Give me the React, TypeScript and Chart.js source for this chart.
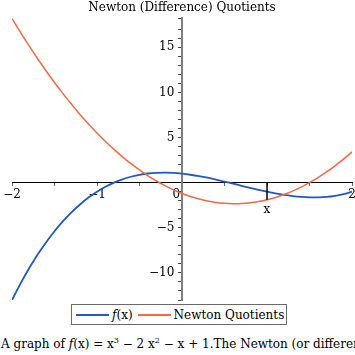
import React, { useEffect, useRef } from "react";
import { Chart, registerables } from "chart.js";

Chart.register(...registerables);

const xValues = [
  -2, -1.9, -1.8, -1.7, -1.6, -1.5, -1.4, -1.3, -1.2, -1.1, -1,
  -0.9, -0.8, -0.7, -0.6, -0.5, -0.4, -0.3, -0.2, -0.1, 0,
  0.1, 0.2, 0.3, 0.4, 0.5, 0.6, 0.7, 0.8, 0.9, 1,
  1.1, 1.2, 1.3, 1.4, 1.5, 1.6, 1.7, 1.8, 1.9, 2,
];

const fValues = [
  -13, -11.18, -9.51, -7.99, -6.62, -5.38, -4.26, -3.28, -2.41, -1.65, -1,
  -0.45, 0.01, 0.38, 0.66, 0.88, 1.02, 1.09, 1.11, 1.08, 1,
  0.88, 0.73, 0.55, 0.34, 0.13, -0.1, -0.34, -0.57, -0.79, -1,
  -1.19, -1.35, -1.48, -1.58, -1.63, -1.62, -1.57, -1.45, -1.26, -1,
];

const quotientValues = [
  18.21, 16.67, 15.19, 13.77, 12.41, 11.11, 9.87, 8.69, 7.57, 6.51, 5.51,
  4.57, 3.69, 2.87, 2.11, 1.41, 0.77, 0.19, -0.33, -0.79, -1.19,
  -1.53, -1.81, -2.03, -2.19, -2.29, -2.33, -2.31, -2.23, -2.09, -1.89,
  -1.63, -1.31, -0.93, -0.49, 0.01, 0.57, 1.19, 1.87, 2.61, 3.41,
];

const markerX = [1, 1];
const markerY = [0, -1.89];

const xTickLabels: Record<string, string | string[]> = {
  "-2": "\u22122",
  "-1": "\u22121",
  "0": "0   ",
  "1": ["", "x"],
  "2": "2",
};
const yTickLabels: Record<string, string> = {
  "15": "15  ",
  "10": "10  ",
  "5": "5  ",
  "-5": "\u22125  ",
  "-10": "\u221210  ",
};

const title = "Newton (Difference) Quotients";
const seriesNames = ["f(x)", "Newton Quotients"];

const BLUE = "#2159c4";
const ORANGE = "#f26a43";
const FONT = "'DejaVu Serif', serif";

export default function App() {
  const canvasRef = useRef<HTMLCanvasElement | null>(null);

  useEffect(() => {
    if (!canvasRef.current) return;
    const chart = new Chart(canvasRef.current, {
      type: "line",
      data: {
        datasets: [
          {
            label: "marker",
            data: markerX.map((x, i) => ({ x, y: markerY[i] })),
            borderColor: "#000",
            borderWidth: 1.5,
            pointRadius: 0,
            order: -1,
          },
          {
            label: seriesNames[0],
            data: xValues.map((x, i) => ({ x, y: fValues[i] })),
            borderColor: BLUE,
            borderWidth: 1.8,
            pointRadius: 0,
            cubicInterpolationMode: "monotone",
            order: 1,
          },
          {
            label: seriesNames[1],
            data: xValues.map((x, i) => ({ x, y: quotientValues[i] })),
            borderColor: ORANGE,
            borderWidth: 1.5,
            pointRadius: 0,
            cubicInterpolationMode: "monotone",
            order: 0,
          },
        ],
      },
      options: {
        animation: false,
        responsive: false,
        maintainAspectRatio: false,
        layout: { padding: { left: 12, right: 3, top: 0, bottom: 2 } },
        plugins: {
          legend: { display: false },
          tooltip: { enabled: false },
          title: {
            display: true,
            text: title,
            color: "#000",
            font: { family: FONT, size: 12, weight: "normal" },
            padding: { top: 1, bottom: 3 },
          },
        },
        scales: {
          x: {
            type: "linear",
            position: { y: 0 } as any,
            min: -2,
            max: 2,
            afterFit: (s: any) => {
              s.height = 0;
              s.paddingLeft = 0;
              s.paddingRight = 0;
              s.paddingTop = 0;
              s.paddingBottom = 0;
            },
            border: { display: true, color: "#000", width: 1 },
            grid: {
              drawOnChartArea: false,
              drawTicks: true,
              tickLength: 3,
              color: "#666",
            },
            ticks: {
              stepSize: 0.5,
              autoSkip: false,
              maxRotation: 0,
              padding: 1,
              color: "#000",
              font: { family: FONT, size: 12, lineHeight: 1.3 },
              callback: (v: any) => xTickLabels[String(v)] ?? "",
            },
          },
          y: {
            type: "linear",
            position: { x: 0 } as any,
            min: -13,
            max: 18.21,
            afterFit: (s: any) => {
              s.width = 0;
              s.paddingLeft = 0;
              s.paddingRight = 0;
              s.paddingTop = 0;
              s.paddingBottom = 0;
            },
            border: { display: true, color: "#808080", width: 2 },
            grid: {
              drawOnChartArea: false,
              drawTicks: true,
              tickLength: 3,
              color: "#444",
            },
            ticks: {
              stepSize: 1,
              autoSkip: false,
              padding: 4,
              color: "#000",
              font: { family: FONT, size: 12 },
              callback: (v: any) => yTickLabels[String(v)] ?? "",
            },
          },
        },
      },
    });
    return () => chart.destroy();
  }, []);

  const lineSwatch = (color: string) => (
    <span
      style={{
        display: "inline-block",
        width: 33,
        height: 2,
        background: color,
        verticalAlign: "middle",
        marginRight: 3,
      }}
    />
  );

  return (
    <div
      style={{
        position: "absolute",
        left: 0,
        top: 0,
        width: 355,
        height: 355,
        overflow: "hidden",
        background: "#fff",
        fontFamily: FONT,
        color: "#000",
      }}
    >
      <canvas
        ref={canvasRef}
        width={355}
        height={302}
        style={{ position: "absolute", left: 0, top: 0, width: 355, height: 302 }}
      />
      <div
        style={{
          position: "absolute",
          left: 71,
          top: 304,
          width: 216,
          height: 21,
          boxSizing: "border-box",
          border: "1.5px solid #6a6a6a",
          display: "flex",
          alignItems: "center",
          paddingLeft: 4,
          fontSize: 12,
          whiteSpace: "nowrap",
        }}
      >
        {lineSwatch(BLUE)}
        <span style={{ marginRight: 5 }}>
          <i>f</i>(x)
        </span>
        {lineSwatch(ORANGE)}
        <span>Newton Quotients</span>
      </div>
      <div
        style={{
          position: "absolute",
          left: 1,
          top: 336,
          width: 360,
          whiteSpace: "nowrap",
          fontSize: 12,
          lineHeight: "16px",
        }}
      >
        A graph of <i>f</i>(x) = x
        <sup style={{ fontSize: 8, verticalAlign: "top", position: "relative", top: -3 }}>3</sup>
        {" \u2212 2 x"}
        <sup style={{ fontSize: 8, verticalAlign: "top", position: "relative", top: -3 }}>2</sup>
        {" \u2212 x + 1.The Newton (or difference) quotients"}
      </div>
    </div>
  );
}
